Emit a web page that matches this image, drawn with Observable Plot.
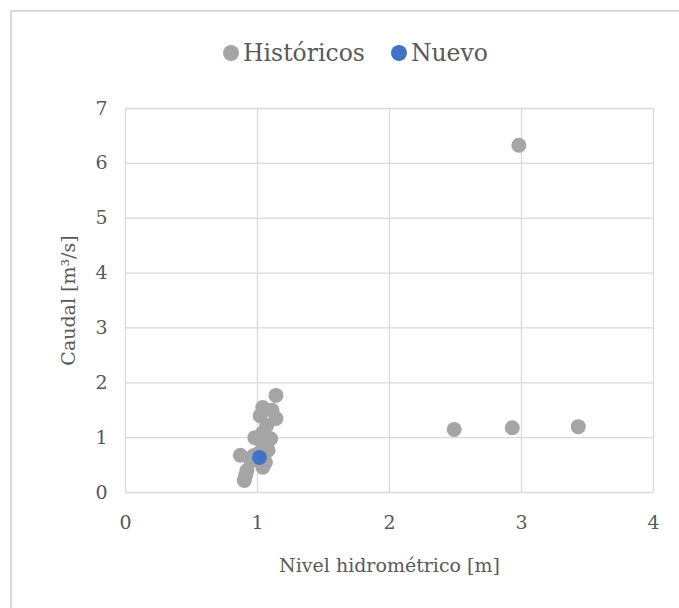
<!DOCTYPE html>
<html><head><meta charset="utf-8">
<script src="https://cdn.jsdelivr.net/npm/d3@7"></script>
<script src="https://cdn.jsdelivr.net/npm/@observablehq/plot@0.6"></script>
<style>
html,body{margin:0;padding:0;background:#fff;width:679px;height:608px;overflow:hidden;}
#frame{position:absolute;left:10px;top:10px;width:700px;height:640px;border:2px solid #d9d9d9;box-sizing:border-box;}
#legend{position:absolute;left:32px;top:38px;width:647px;text-align:center;font-family:"DejaVu Serif",serif;font-size:23.5px;line-height:30px;color:#595959;}
#legend span.item{margin:0 13px;white-space:nowrap;}
#legend span.sw{display:inline-block;width:16px;height:16px;border-radius:50%;vertical-align:0px;margin-right:4px;}
#chart{position:absolute;left:0;top:80px;}
</style></head>
<body>
<div id="frame"></div>
<div id="legend"></div>
<div id="chart"></div>
<script>
const seriesNames = ["Históricos", "Nuevo"];
const seriesColors = ["#A5A5A5", "#4472C4"];
const histNivel  = [2.98, 2.49, 2.93, 3.43, 1.14, 1.04, 1.11, 1.02, 1.14, 1.07, 1.04, 1.10, 0.98, 1.04, 1.08, 0.87, 0.95, 1.04, 0.92, 0.90, 0.91, 0.97, 1.00, 1.06];
const histCaudal = [6.33, 1.15, 1.18, 1.20, 1.77, 1.55, 1.50, 1.40, 1.35, 1.22, 1.09, 0.98, 1.00, 0.86, 0.77, 0.68, 0.58, 0.46, 0.40, 0.22, 0.31, 0.67, 0.70, 0.55];
const nuevoNivel  = [1.015];
const nuevoCaudal = [0.64];
const xTicks = [0, 1, 2, 3, 4];
const yTicks = [0, 1, 2, 3, 4, 5, 6, 7];

const hist = histNivel.map((x, i) => ({x, y: histCaudal[i]}));
const nuevo = nuevoNivel.map((x, i) => ({x, y: nuevoCaudal[i]}));

const leg = document.getElementById("legend");
seriesNames.forEach((n, i) => {
  const s = document.createElement("span"); s.className = "item";
  const sw = document.createElement("span"); sw.className = "sw"; sw.style.background = seriesColors[i];
  s.appendChild(sw); s.appendChild(document.createTextNode(n));
  leg.appendChild(s);
});

const chart = Plot.plot({
  width: 679, height: 520,
  marginLeft: 125, marginRight: 26, marginTop: 28, marginBottom: 108,
  style: {fontFamily: "DejaVu Serif, serif", fontSize: "20px", color: "#595959", background: "transparent"},
  x: {domain: [0, 4], ticks: xTicks},
  y: {domain: [0, 7], ticks: yTicks},
  marks: [
    Plot.gridX(xTicks, {stroke: "#d9d9d9", strokeOpacity: 1, strokeWidth: 1.3}),
    Plot.gridY(yTicks, {stroke: "#d9d9d9", strokeOpacity: 1, strokeWidth: 1.3}),
    Plot.axisX(xTicks, {tickSize: 0, tickPadding: 23, tickFormat: d => String(d), label: "Nivel hidrométrico [m]", labelAnchor: "center", labelArrow: "none", labelOffset: 79, fill: "#595959", fontSize: 19}),
    Plot.axisY(yTicks, {tickSize: 0, tickPadding: 18, tickFormat: d => String(d), label: "Caudal [m³/s]", labelAnchor: "center", labelArrow: "none", labelOffset: 64, fill: "#595959", fontSize: 19}),
    Plot.dot(hist, {x: "x", y: "y", r: 7.5, fill: seriesColors[0]}),
    Plot.dot(nuevo, {x: "x", y: "y", r: 7.5, fill: seriesColors[1]})
  ]
});
document.getElementById("chart").appendChild(chart);
</script>
</body></html>
